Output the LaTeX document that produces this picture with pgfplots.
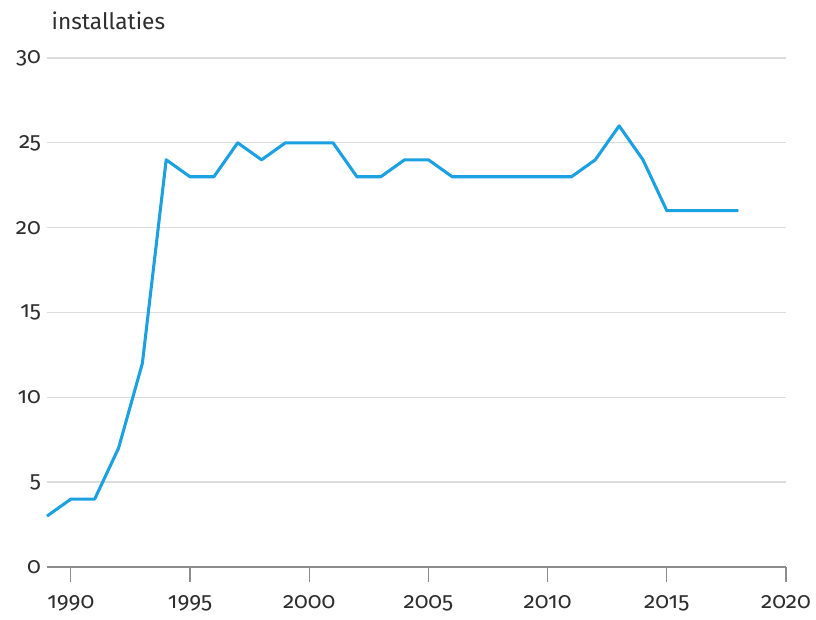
\documentclass[border=0pt]{standalone}
\usepackage{pgfplots}
\pgfplotsset{compat=1.18}
\usepackage{fontspec}
\setmainfont{Fira Sans}[Numbers=OldStyle]
\definecolor{lineblue}{HTML}{1BA0E2}
\definecolor{gridgray}{HTML}{DCDCDC}
\definecolor{axisgray}{HTML}{8C8C8C}
\definecolor{txt}{HTML}{2E2E2E}
\begin{document}
\begin{tikzpicture}[x=0.75pt,y=0.75pt]
\useasboundingbox (0,0) rectangle (816,620);
\begin{axis}[
  at={(47*0.75pt,53*0.75pt)}, anchor=south west,
  scale only axis, width=739*0.75pt, height=509*0.75pt,
  xmin=1989, xmax=2020, ymin=0, ymax=30,
  xtick={1990,1995,...,2020}, ytick={0,5,...,30},
  axis line style={draw=none},
  axis x line*=bottom, axis y line*=left,
  x axis line style={draw=axisgray, line width=0.9pt},
  y axis line style={draw=none},
  ymajorgrids, grid style={gridgray, line width=1pt},
  xtick style={draw=axisgray, line width=0.9pt},
  ytick style={draw=none},
  xtick align=outside,
  major tick length=11pt,
  tick label style={font=\fontsize{17}{19}\selectfont, text=txt},
  xticklabel style={yshift=-7pt},
  yticklabel style={xshift=-1pt},
  /pgf/number format/assume math mode=true,
  /pgf/number format/1000 sep={},
  clip=false,
  ylabel={installaties},
  ylabel style={rotate=-90, at={(rel axis cs:0,1)}, anchor=base west, yshift=21pt, xshift=0pt, font=\fontsize{17}{19}\selectfont, text=txt},
]
\addplot[lineblue, line width=2.3pt, line join=round] coordinates {
(1989,3) (1990,4) (1991,4) (1992,7) (1993,12) (1994,24) (1995,23) (1996,23)
(1997,25) (1998,24) (1999,25) (2000,25) (2001,25) (2002,23) (2003,23) (2004,24)
(2005,24) (2006,23) (2007,23) (2008,23) (2009,23) (2010,23) (2011,23) (2012,24)
(2013,26) (2014,24) (2015,21) (2016,21) (2017,21) (2018,21)
};
\end{axis}
\end{tikzpicture}
\end{document}
